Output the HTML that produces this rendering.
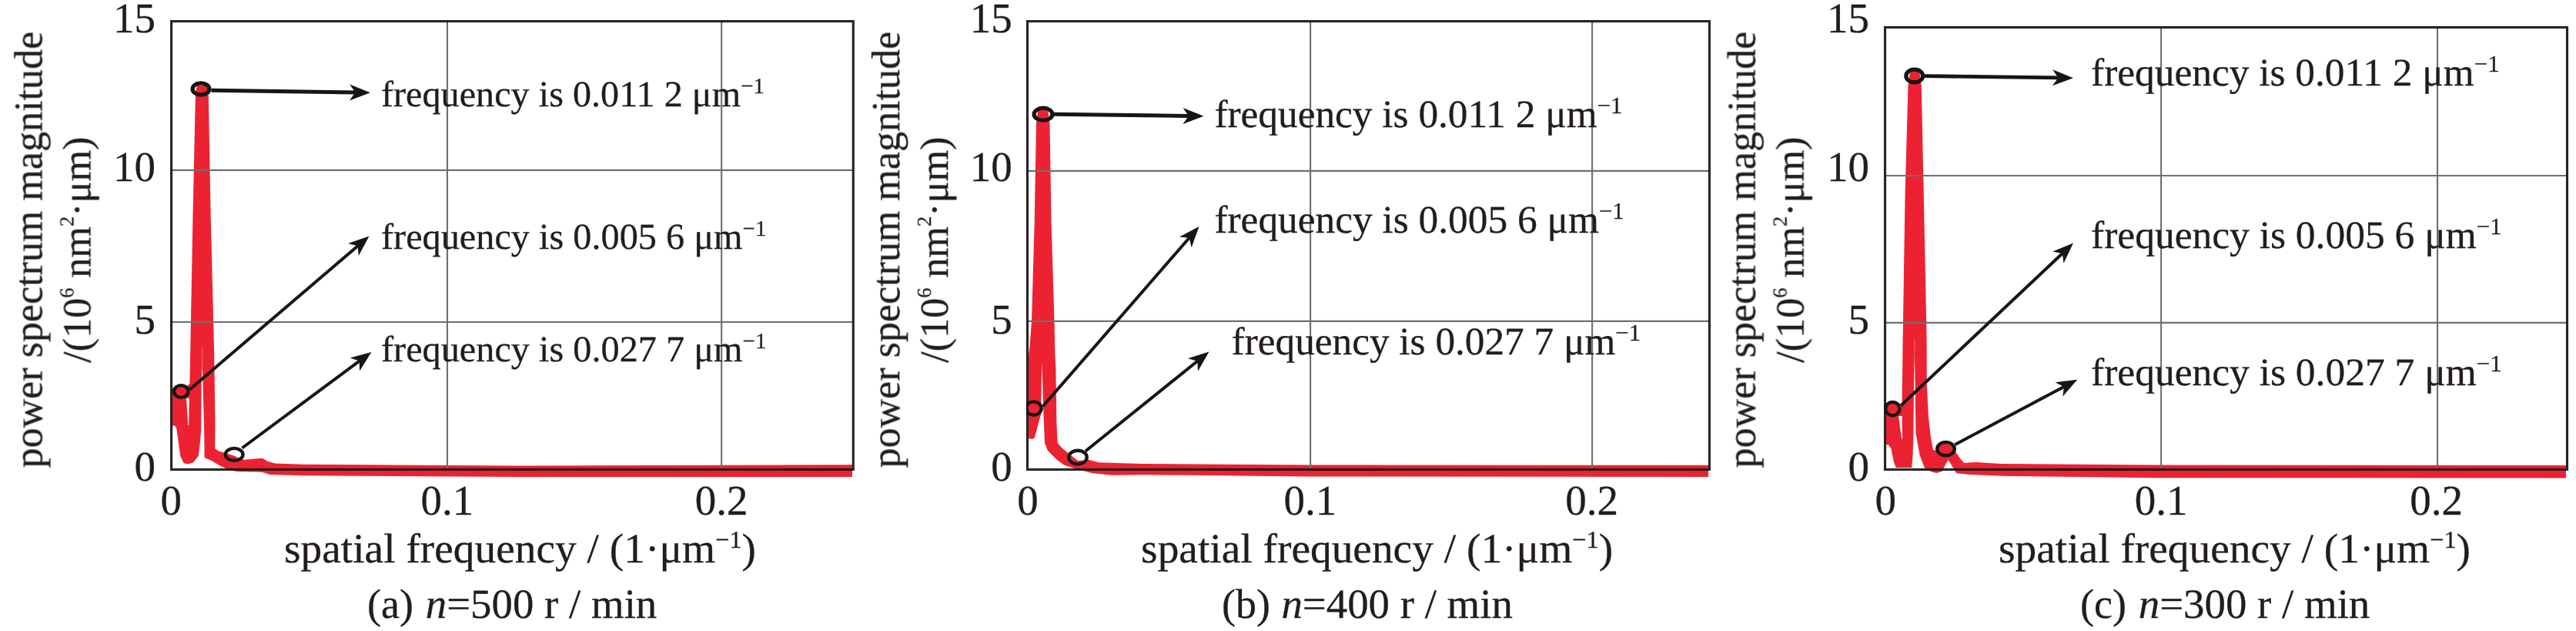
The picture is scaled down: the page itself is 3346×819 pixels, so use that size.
<!DOCTYPE html>
<html><head><meta charset="utf-8"><title>power spectrum</title>
<style>html,body{margin:0;padding:0;background:#fff}svg{display:block}text{font-family:"Liberation Serif",serif;fill:#231f20;stroke:#231f20;stroke-width:0.3px;text-rendering:geometricPrecision}</style></head><body>
<svg width="3346" height="819" viewBox="0 0 3346 819">
<defs><filter id="soft" x="-2%" y="-2%" width="104%" height="104%"><feGaussianBlur stdDeviation="0.7"/></filter><filter id="tsoft" x="-1%" y="-1%" width="102%" height="102%"><feGaussianBlur stdDeviation="0.45"/></filter></defs>
<rect width="3346" height="819" fill="#fff"/>
<!-- panel a -->
<g filter="url(#soft)">
<polygon points="224.0,504.0 228.0,501.0 243.0,501.0 246.4,498.0 247.5,440.0 250.5,280.0 254.0,120.0 256.0,111.0 268.0,111.0 270.7,120.0 273.7,280.0 278.2,460.0 279.5,551.0 279.2,582.0 284.0,585.5 291.0,587.5 304.0,591.5 312.0,595.5 317.7,596.8 330.0,595.6 341.0,594.8 348.0,598.9 357.7,601.6 393.6,602.8 675.0,604.4 1107.0,603.2 1107.0,619.0 675.0,619.0 393.6,617.3 350.7,616.0 340.0,612.7 307.9,612.0 298.2,610.3 286.3,604.8 274.4,597.7 265.6,594.0 265.2,560.0 263.6,500.0 262.6,470.0 261.6,500.0 261.2,560.0 259.2,580.0 257.8,591.7 250.7,600.5 244.0,602.3 238.8,601.3 234.3,592.0 231.5,572.0 229.3,556.0 227.0,552.5 224.0,552.5" fill="#ec2230"/>
<polygon points="242.0,517.0 245.8,517.0 245.2,552.0 244.4,552.0" fill="#ffffff"/>
<line x1="262.6" y1="450" x2="262.6" y2="474" stroke="#f8a5ac" stroke-width="1.4" opacity="0.4"/>
</g>
<line x1="581.0" y1="27.6" x2="581.0" y2="609.4" stroke="#6f6f6f" stroke-width="2.1"/>
<line x1="937.2" y1="27.6" x2="937.2" y2="609.4" stroke="#6f6f6f" stroke-width="2.1"/>
<line x1="222.6" y1="220.9" x2="1108.3" y2="220.9" stroke="#6f6f6f" stroke-width="2.1"/>
<line x1="222.6" y1="418.0" x2="1108.3" y2="418.0" stroke="#6f6f6f" stroke-width="2.1"/>
<rect x="222.6" y="27.6" width="885.7" height="581.8" fill="none" stroke="#161314" stroke-width="3.1" opacity="0.93"/>
<clipPath id="cp0"><rect x="221.1" y="26.1" width="888.7" height="595.8"/></clipPath>
<g filter="url(#soft)" clip-path="url(#cp0)">
<line x1="274.5" y1="117.3" x2="461.5" y2="120.0" stroke="#161314" stroke-width="4.9"/><polygon points="481.0,120.3 453.9,130.4 461.5,120.0 454.2,109.4" fill="#161314"/>
<line x1="246.5" y1="505.5" x2="464.7" y2="319.2" stroke="#161314" stroke-width="4.0"/><polygon points="479.5,306.5 465.8,332.0 464.7,319.2 452.1,316.1" fill="#161314"/>
<line x1="314.5" y1="581.5" x2="466.8" y2="468.6" stroke="#161314" stroke-width="4.0"/><polygon points="482.5,457.0 467.1,481.5 466.8,468.6 454.6,464.6" fill="#161314"/>
<ellipse cx="261.0" cy="115.5" rx="10.90" ry="7.65" fill="none" stroke="#161314" stroke-width="5.2"/>
<ellipse cx="235.3" cy="508.0" rx="9.15" ry="7.95" fill="none" stroke="#161314" stroke-width="4.3"/>
<ellipse cx="304.2" cy="589.9" rx="11.35" ry="7.95" fill="none" stroke="#161314" stroke-width="4.3"/>
</g>
<g filter="url(#tsoft)">
<text x="495.0" y="138.0" font-size="47.6" textLength="498.0" lengthAdjust="spacingAndGlyphs">frequency is 0.011 2 μm<tspan font-size="28.6" dy="-16.9">−1</tspan></text>
<text x="495.0" y="322.7" font-size="47.6" textLength="500.5" lengthAdjust="spacingAndGlyphs">frequency is 0.005 6 μm<tspan font-size="28.6" dy="-16.9">−1</tspan></text>
<text x="495.0" y="468.7" font-size="47.6" textLength="500.5" lengthAdjust="spacingAndGlyphs">frequency is 0.027 7 μm<tspan font-size="28.6" dy="-16.9">−1</tspan></text>
<text x="202.0" y="42.2"font-size="55.0" text-anchor="end">15</text>
<text x="202.0" y="235.0"font-size="55.0" text-anchor="end">10</text>
<text x="202.0" y="433.2"font-size="55.0" text-anchor="end">5</text>
<text x="202.0" y="624.0"font-size="55.0" text-anchor="end">0</text>
<text x="222.3" y="668.4" font-size="55.0" text-anchor="middle">0</text>
<text x="580.8" y="668.4" font-size="55.0" text-anchor="middle">0.1</text>
<text x="937.2" y="668.4" font-size="55.0" text-anchor="middle">0.2</text>
<text x="369.0" y="729.7"font-size="54.0" textLength="613" lengthAdjust="spacingAndGlyphs">spatial frequency / (1·μm<tspan font-size="31.5" dy="-18.5">−1</tspan><tspan dy="18.5">)</tspan></text>
<text x="477.0" y="801.6"font-size="54.0">(a)</text>
<text x="552.8" y="801.6"font-size="54.0" textLength="300.5" lengthAdjust="spacingAndGlyphs"><tspan font-style="italic">n</tspan>=500 r / min</text>
<text transform="translate(54.4,607.4) rotate(-90)" font-size="52.0" textLength="566.5" lengthAdjust="spacingAndGlyphs">power spectrum magnitude</text>
<text transform="translate(117.4,470.9) rotate(-90)" font-size="52.0" textLength="293.5" lengthAdjust="spacingAndGlyphs">/(10<tspan font-size="26.0" dy="-22">6</tspan><tspan dy="22"> nm</tspan><tspan font-size="26.0" dy="-22">2</tspan><tspan dy="22">·μm)</tspan></text>
</g>
<!-- panel b -->
<g filter="url(#soft)">
<polygon points="1336.0,460.0 1337.5,450.0 1340.0,417.0 1343.7,290.0 1346.0,160.0 1348.5,142.0 1361.0,142.0 1363.5,160.0 1365.6,290.0 1369.5,417.0 1370.4,460.0 1371.4,480.0 1372.5,551.0 1373.7,575.0 1380.0,582.0 1386.8,587.5 1400.0,598.0 1414.2,596.8 1427.2,600.2 1485.0,601.9 1700.0,603.6 2219.0,603.7 2219.0,619.0 1700.0,618.5 1485.0,616.2 1444.0,616.7 1420.0,614.3 1400.0,609.5 1382.0,603.6 1372.5,596.5 1360.7,584.6 1357.0,575.0 1355.4,537.0 1354.4,504.0 1353.4,470.0 1352.6,504.0 1352.3,537.0 1347.6,553.7 1344.0,568.0 1341.0,570.0 1336.0,569.0" fill="#ec2230"/>
</g>
<line x1="1702.1" y1="27.6" x2="1702.1" y2="609.4" stroke="#6f6f6f" stroke-width="2.1"/>
<line x1="2068.1" y1="27.6" x2="2068.1" y2="609.4" stroke="#6f6f6f" stroke-width="2.1"/>
<line x1="1334.5" y1="221.9" x2="2220.4" y2="221.9" stroke="#6f6f6f" stroke-width="2.1"/>
<line x1="1334.5" y1="416.9" x2="2220.4" y2="416.9" stroke="#6f6f6f" stroke-width="2.1"/>
<rect x="1334.5" y="27.6" width="885.9" height="581.8" fill="none" stroke="#161314" stroke-width="3.1" opacity="0.93"/>
<clipPath id="cp1"><rect x="1333.0" y="26.1" width="888.9" height="595.8"/></clipPath>
<g filter="url(#soft)" clip-path="url(#cp1)">
<line x1="1369.0" y1="148.3" x2="1544.0" y2="150.5" stroke="#161314" stroke-width="4.9"/><polygon points="1563.5,150.8 1536.4,161.0 1544.0,150.5 1536.6,140.0" fill="#161314"/>
<line x1="1354.5" y1="527.5" x2="1544.7" y2="308.7" stroke="#161314" stroke-width="4.0"/><polygon points="1557.5,294.0 1547.7,321.3 1544.7,308.7 1531.9,307.5" fill="#161314"/>
<line x1="1410.0" y1="585.5" x2="1555.3" y2="468.8" stroke="#161314" stroke-width="4.0"/><polygon points="1570.5,456.6 1556.0,481.7 1555.3,468.8 1542.9,465.3" fill="#161314"/>
<ellipse cx="1355.0" cy="148.2" rx="11.90" ry="8.00" fill="none" stroke="#161314" stroke-width="5.2"/>
<ellipse cx="1342.6" cy="530.0" rx="10.10" ry="8.55" fill="none" stroke="#161314" stroke-width="4.3"/>
<ellipse cx="1400.0" cy="593.6" rx="11.75" ry="8.85" fill="none" stroke="#161314" stroke-width="4.3"/>
</g>
<g filter="url(#tsoft)">
<text x="1577.4" y="164.8" font-size="50.7" textLength="530.0" lengthAdjust="spacingAndGlyphs">frequency is 0.011 2 μm<tspan font-size="30.4" dy="-18.0">−1</tspan></text>
<text x="1577.4" y="302.4" font-size="50.7" textLength="532.3" lengthAdjust="spacingAndGlyphs">frequency is 0.005 6 μm<tspan font-size="30.4" dy="-18.0">−1</tspan></text>
<text x="1599.6" y="460.1" font-size="50.7" textLength="531.5" lengthAdjust="spacingAndGlyphs">frequency is 0.027 7 μm<tspan font-size="30.4" dy="-18.0">−1</tspan></text>
<text x="1314.8" y="42.2"font-size="55.0" text-anchor="end">15</text>
<text x="1314.8" y="235.0"font-size="55.0" text-anchor="end">10</text>
<text x="1314.8" y="433.2"font-size="55.0" text-anchor="end">5</text>
<text x="1314.8" y="624.0"font-size="55.0" text-anchor="end">0</text>
<text x="1335.0" y="668.4" font-size="55.0" text-anchor="middle">0</text>
<text x="1701.9" y="668.4" font-size="55.0" text-anchor="middle">0.1</text>
<text x="2067.6" y="668.4" font-size="55.0" text-anchor="middle">0.2</text>
<text x="1482.1" y="729.7"font-size="54.0" textLength="613" lengthAdjust="spacingAndGlyphs">spatial frequency / (1·μm<tspan font-size="31.5" dy="-18.5">−1</tspan><tspan dy="18.5">)</tspan></text>
<text x="1587.1" y="801.6"font-size="54.0">(b)</text>
<text x="1664.4" y="801.6"font-size="54.0" textLength="300.5" lengthAdjust="spacingAndGlyphs"><tspan font-style="italic">n</tspan>=400 r / min</text>
<text transform="translate(1168.1,607.4) rotate(-90)" font-size="52.0" textLength="566.5" lengthAdjust="spacingAndGlyphs">power spectrum magnitude</text>
<text transform="translate(1231.1,470.9) rotate(-90)" font-size="52.0" textLength="293.5" lengthAdjust="spacingAndGlyphs">/(10<tspan font-size="26.0" dy="-22">6</tspan><tspan dy="22"> nm</tspan><tspan font-size="26.0" dy="-22">2</tspan><tspan dy="22">·μm)</tspan></text>
</g>
<!-- panel c -->
<g filter="url(#soft)">
<polygon points="2450.0,526.0 2454.0,522.5 2466.0,522.5 2470.5,526.0 2471.6,440.0 2474.6,250.0 2478.5,111.0 2481.0,92.0 2493.0,92.0 2495.7,111.0 2498.7,250.0 2502.6,440.0 2502.8,500.0 2504.9,541.0 2508.0,568.0 2511.0,584.0 2515.0,585.0 2519.0,578.5 2527.5,575.0 2536.0,578.5 2541.5,588.5 2546.0,595.0 2551.2,601.0 2560.0,600.3 2567.7,599.9 2600.0,602.0 2800.0,603.5 3333.0,604.0 3333.0,620.5 2800.0,620.2 2600.0,617.8 2555.0,615.7 2541.0,614.0 2535.0,604.0 2530.6,596.8 2526.5,604.0 2522.4,612.0 2515.0,614.0 2508.0,612.0 2499.7,607.0 2493.5,590.6 2488.4,561.8 2487.6,500.0 2486.9,455.0 2486.0,500.0 2485.4,560.0 2484.6,590.0 2483.2,607.0 2462.7,607.0 2459.6,598.8 2456.5,582.4 2453.0,577.2 2450.0,577.2" fill="#ec2230"/>
<polygon points="2466.0,540.0 2470.6,540.0 2470.9,570.0 2470.2,570.0" fill="#ffffff"/>
<line x1="2486.9" y1="440" x2="2486.9" y2="458" stroke="#f8a5ac" stroke-width="1.4" opacity="0.4"/>
</g>
<line x1="2807.1" y1="35.5" x2="2807.1" y2="609.4" stroke="#6f6f6f" stroke-width="2.1"/>
<line x1="3166.0" y1="35.5" x2="3166.0" y2="609.4" stroke="#6f6f6f" stroke-width="2.1"/>
<line x1="2448.5" y1="228.0" x2="3334.5" y2="228.0" stroke="#6f6f6f" stroke-width="2.1"/>
<line x1="2448.5" y1="418.9" x2="3334.5" y2="418.9" stroke="#6f6f6f" stroke-width="2.1"/>
<rect x="2448.5" y="35.5" width="886.0" height="573.9" fill="none" stroke="#161314" stroke-width="3.1" opacity="0.93"/>
<clipPath id="cp2"><rect x="2447.0" y="34.0" width="889.0" height="587.9"/></clipPath>
<g filter="url(#soft)" clip-path="url(#cp2)">
<line x1="2500.0" y1="98.6" x2="2673.5" y2="100.9" stroke="#161314" stroke-width="4.9"/><polygon points="2693.0,101.2 2665.9,111.3 2673.5,100.9 2666.1,90.3" fill="#161314"/>
<line x1="2469.5" y1="526.0" x2="2678.8" y2="329.0" stroke="#161314" stroke-width="4.0"/><polygon points="2693.0,315.6 2680.5,341.8 2678.8,329.0 2666.1,326.5" fill="#161314"/>
<line x1="2539.5" y1="577.0" x2="2681.0" y2="501.9" stroke="#161314" stroke-width="4.0"/><polygon points="2698.2,492.8 2679.3,514.7 2681.0,501.9 2669.4,496.2" fill="#161314"/>
<ellipse cx="2486.7" cy="98.5" rx="10.90" ry="8.40" fill="none" stroke="#161314" stroke-width="5.2"/>
<ellipse cx="2458.3" cy="530.6" rx="9.10" ry="8.65" fill="none" stroke="#161314" stroke-width="4.3"/>
<ellipse cx="2527.5" cy="582.6" rx="11.35" ry="8.65" fill="none" stroke="#161314" stroke-width="4.3"/>
</g>
<g filter="url(#tsoft)">
<text x="2716.1" y="111.0" font-size="50.7" textLength="530.5" lengthAdjust="spacingAndGlyphs">frequency is 0.011 2 μm<tspan font-size="30.4" dy="-18.0">−1</tspan></text>
<text x="2716.1" y="322.4" font-size="50.7" textLength="533.5" lengthAdjust="spacingAndGlyphs">frequency is 0.005 6 μm<tspan font-size="30.4" dy="-18.0">−1</tspan></text>
<text x="2716.1" y="499.9" font-size="50.7" textLength="533.5" lengthAdjust="spacingAndGlyphs">frequency is 0.027 7 μm<tspan font-size="30.4" dy="-18.0">−1</tspan></text>
<text x="2428.0" y="42.2"font-size="55.0" text-anchor="end">15</text>
<text x="2428.0" y="235.0"font-size="55.0" text-anchor="end">10</text>
<text x="2428.0" y="433.2"font-size="55.0" text-anchor="end">5</text>
<text x="2428.0" y="624.0"font-size="55.0" text-anchor="end">0</text>
<text x="2449.2" y="668.4" font-size="55.0" text-anchor="middle">0</text>
<text x="2807.0" y="668.4" font-size="55.0" text-anchor="middle">0.1</text>
<text x="3164.7" y="668.4" font-size="55.0" text-anchor="middle">0.2</text>
<text x="2596.0" y="729.7"font-size="54.0" textLength="613" lengthAdjust="spacingAndGlyphs">spatial frequency / (1·μm<tspan font-size="31.5" dy="-18.5">−1</tspan><tspan dy="18.5">)</tspan></text>
<text x="2702.0" y="801.6"font-size="54.0">(c)</text>
<text x="2777.8" y="801.6"font-size="54.0" textLength="300.5" lengthAdjust="spacingAndGlyphs"><tspan font-style="italic">n</tspan>=300 r / min</text>
<text transform="translate(2279.6,607.4) rotate(-90)" font-size="52.0" textLength="566.5" lengthAdjust="spacingAndGlyphs">power spectrum magnitude</text>
<text transform="translate(2342.6,470.9) rotate(-90)" font-size="52.0" textLength="293.5" lengthAdjust="spacingAndGlyphs">/(10<tspan font-size="26.0" dy="-22">6</tspan><tspan dy="22"> nm</tspan><tspan font-size="26.0" dy="-22">2</tspan><tspan dy="22">·μm)</tspan></text>
</g>
</svg></body></html>
